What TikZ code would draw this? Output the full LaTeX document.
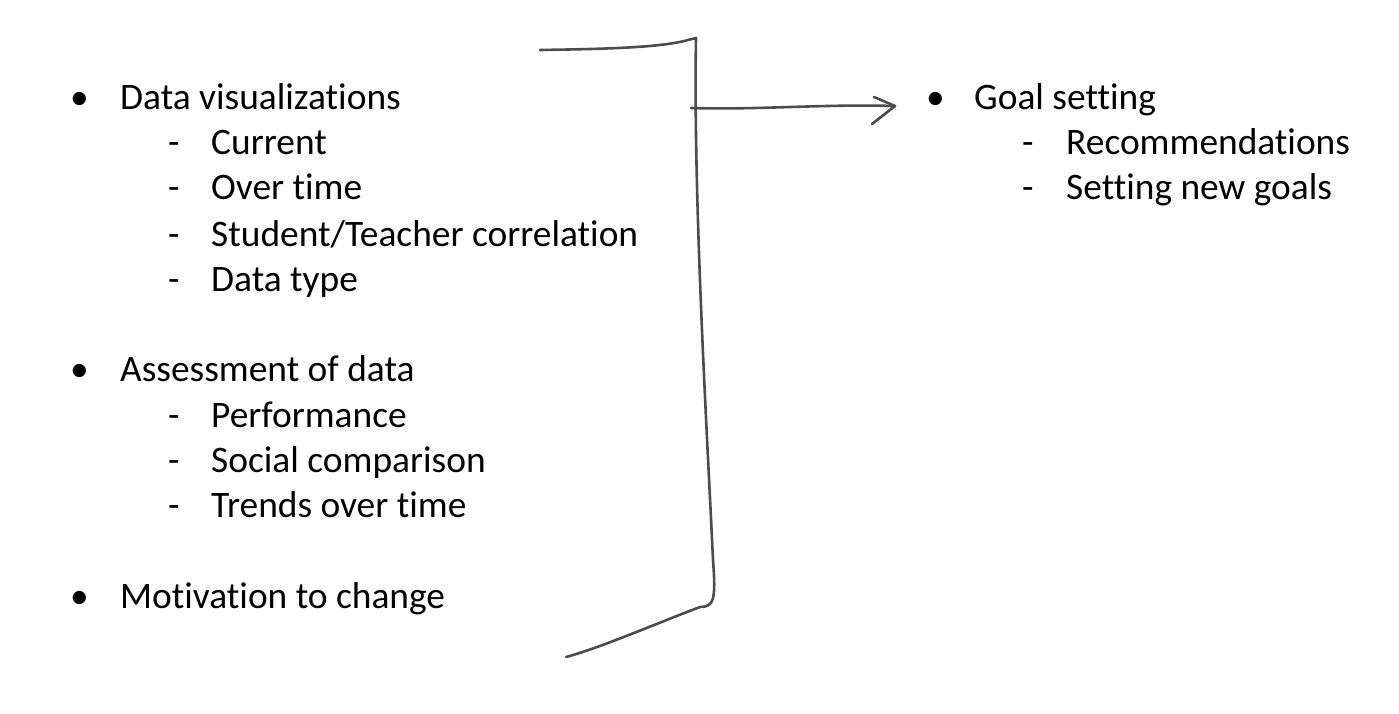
\documentclass[tikz,border=0pt]{standalone}
\usepackage{fontspec}
\setmainfont{Carlito}[Ligatures=NoCommon]
\begin{document}
\begin{tikzpicture}[x=1pt,y=-1pt,
  txt/.style={anchor=base west,inner sep=0pt,font=\fontsize{37.4}{40}\selectfont},
  pen/.style={draw=black!70,line width=2.6pt,line cap=round,line join=round}]
\useasboundingbox (0,0) rectangle (1399,714);
% left list
\node[txt] (b1) at (70,110) {•};
\node[txt] (t1) at (120,110) {Data visualizations};
\node[txt] (d11) at (168,155) {-};
\node[txt] (s11) at (211,155) {Current};
\node[txt] (d12) at (168,200) {-};
\node[txt] (s12) at (211,200) {Over time};
\node[txt] (d13) at (168,246) {-};
\node[txt] (s13) at (211,246) {Student/Teacher correlation};
\node[txt] (d14) at (168,291) {-};
\node[txt] (s14) at (211,291) {Data type};
\node[txt] (b2) at (70,381) {•};
\node[txt] (t2) at (120,381) {Assessment of data};
\node[txt] (d21) at (168,427) {-};
\node[txt] (s21) at (211,427) {Performance};
\node[txt] (d22) at (168,472) {-};
\node[txt] (s22) at (211,472) {Social comparison};
\node[txt] (d23) at (168,517) {-};
\node[txt] (s23) at (211,517) {Trends over time};
\node[txt] (b3) at (70,608) {•};
\node[txt] (t3) at (120,608) {Motivation to change};
% right list
\node[txt] (b4) at (926,110) {•};
\node[txt] (t4) at (974,110) {Goal setting};
\node[txt] (d41) at (1022,155) {-};
\node[txt] (s41) at (1066,155) {Recommendations};
\node[txt] (d42) at (1022,200) {-};
\node[txt] (s42) at (1066,200) {Setting new goals};
% bracket
\coordinate (topend) at (540,50);
\coordinate (topcorner) at (696,38);
\coordinate (mid) at (691,108);
\coordinate (botcorner) at (713,604);
\coordinate (botend) at (566,657);
\path[pen] (topend) .. controls (600,49) and (660,48) .. (688,40)
  -- (topcorner) .. controls (693,200) and (708,450) .. (713,560)
  .. controls (716,600) and (714,607) .. (700,607)
  .. controls (660,622) and (600,648) .. (botend);
% arrow
\coordinate (tip) at (895,106);
\path[pen] (mid) .. controls (760,110) and (820,104) .. (tip);
\path[pen] (874,97) -- (tip) -- (872,124);
\end{tikzpicture}
\end{document}
